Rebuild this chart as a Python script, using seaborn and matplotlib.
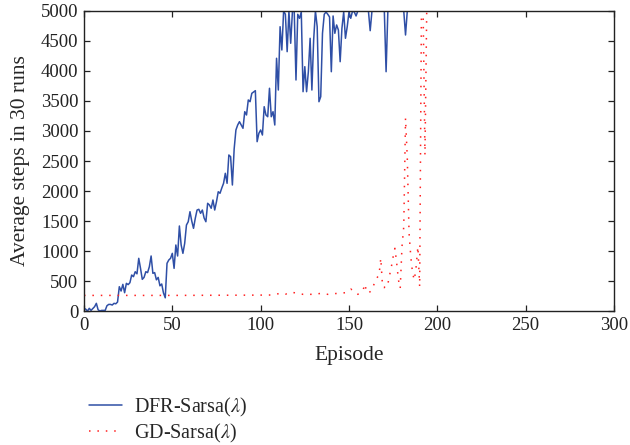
import matplotlib
matplotlib.use("Agg")
import matplotlib.pyplot as plt
import seaborn as sns
import pandas as pd

# ---- data ----
dfr_episodes = list(range(0, 156)) + [161, 162, 163, 170, 171, 172, 181, 182, 183, 300]
dfr_steps = [
    45, 30, 0, 45, 10, 40, 72, 128, 20, 0,
    10, 10, 10, 88, 110, 110, 100, 128, 120, 150,
    405, 333, 444, 305, 461, 440, 472, 600, 572, 655,
    620, 878, 711, 528, 560, 655, 640, 738, 917, 628,
    640, 520, 560, 420, 450, 300, 220, 795, 850, 878,
    961, 711, 1100, 917, 1417, 1100, 961, 1128, 1433, 1488,
    1655, 1500, 1378, 1545, 1683, 1695, 1628, 1683, 1550, 1488,
    1795, 1767, 1712, 1850, 1683, 1822, 1988, 1962, 2050, 2128,
    2295, 2128, 2600, 2572, 2100, 2700, 3017, 3100, 3155, 3100,
    3045, 3322, 3267, 3517, 3488, 3628, 3650, 3672, 2822, 2962,
    3017, 2933, 3405, 3267, 3238, 3712, 3238, 3322, 3100, 4212,
    3683, 4738, 4350, 5000, 4945, 4322, 5000, 4462, 5000, 5000,
    3850, 4945, 4878, 4983, 3655, 4072, 3655, 3988, 4545, 3683,
    4517, 5000, 4738, 3488, 3572, 4628, 4945, 4983, 4945, 4900,
    3988, 4917, 4628, 4767, 4683, 4155, 4712, 4983, 4545, 4738,
    4983, 4878, 5000, 4983, 4917, 5000,
    5000, 4672, 5000, 5000, 3988, 5000, 5000, 4600, 5000, 5000,
]

gd_episodes = [0, 50, 100, 107, 111, 114, 117, 119, 124, 127, 131, 134, 138, 140,
               144, 148, 150, 151, 153, 155, 158, 159, 160, 161, 162, 163, 164,
               165, 166, 167, 168, 169, 170, 171, 172, 173, 174, 175, 176, 177,
               178, 179, 180, 181, 182, 183, 184, 185, 186, 187, 188, 189, 190,
               191, 192, 193, 194, 300]
gd_steps = [260, 260, 265, 267, 295, 280, 311, 305, 278, 278, 278, 295, 278, 285,
            295, 305, 350, 367, 322, 278, 350, 450, 311, 300, 322, 350, 433,
            517, 560, 600, 880, 405, 390, 461, 450, 600, 738, 905, 1045, 800,
            517, 378, 1072, 1405, 3212, 2550, 1300, 900, 628, 517, 738, 1072, 405,
            5000, 4900, 2600, 5000, 5000]

series_names = ["DFR-Sarsa($\\lambda$)", "GD-Sarsa($\\lambda$)"]
x_ticks = [0, 50, 100, 150, 200, 250, 300]
y_ticks = [0, 500, 1000, 1500, 2000, 2500, 3000, 3500, 4000, 4500, 5000]

df_dfr = pd.DataFrame({"Episode": dfr_episodes, "Steps": dfr_steps})
df_gd = pd.DataFrame({"Episode": gd_episodes, "Steps": gd_steps})

sns.set_style("ticks")
plt.rcParams["font.family"] = ["Liberation Serif", "DejaVu Serif"]
plt.rcParams["mathtext.fontset"] = "stix"

fig = plt.figure(figsize=(6.3, 4.45), dpi=100)
ax = fig.add_axes([0.1333, 0.3011, 0.8413, 0.6742])

sns.lineplot(data=df_dfr, x="Episode", y="Steps", ax=ax, color="#2f4fa6",
             linewidth=1.1, label=series_names[0], legend=False)
sns.lineplot(data=df_gd, x="Episode", y="Steps", ax=ax, color="#ff2020",
             linewidth=1.1, linestyle=(0, (1, 4.5)), label=series_names[1], legend=False)

ax.set_xlim(0, 300)
ax.set_ylim(0, 5000)
ax.set_xticks(x_ticks)
ax.set_yticks(y_ticks)
ax.tick_params(direction="in", top=True, right=True, labelsize=13.5, length=4,
               width=0.9, colors="#222222", pad=4)
for s in ax.spines.values():
    s.set_linewidth(1.0)
    s.set_color("#222222")
ax.set_xlabel("Episode", fontsize=15.5, labelpad=9)
ax.set_ylabel("Average steps in 30 runs", fontsize=15.5, labelpad=8)

handles, labels = ax.get_legend_handles_labels()
fig.legend(handles, labels, loc="upper left", bbox_to_anchor=(0.113, 0.152),
           frameon=False, fontsize=14.5, handlelength=1.6, handletextpad=0.6,
           labelspacing=0.15)

fig.savefig("out.png", dpi=100)
